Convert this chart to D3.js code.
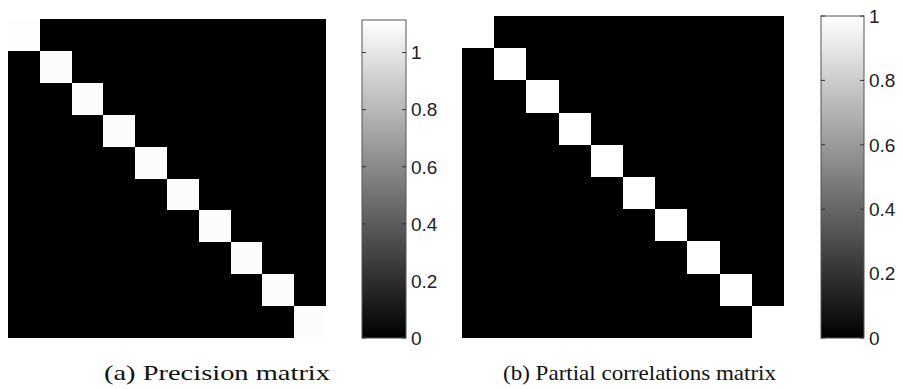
<!DOCTYPE html>
<html>
<head>
<meta charset="utf-8">
<script src="https://cdn.jsdelivr.net/npm/d3@7"></script>
<style>
  body { margin: 0; background: #fff; }
  .cb text { font-family: "Liberation Sans", Arial, sans-serif; font-size: 19px; fill: #222; }
  .caption { font-family: "Liberation Serif", "DejaVu Serif", serif; font-size: 22px; fill: #111; }
</style>
</head>
<body>
<svg id="chart" width="903" height="389"></svg>
<script>
// matrix size and values
var n = 10;
var precisionDiag = [1.11, 1.1, 1.1, 1.1, 1.1, 1.1, 1.1, 1.1, 1.1, 1.1];
var precisionOff = 0;
var partialDiag = [1, 1, 1, 1, 1, 1, 1, 1, 1, 1];
var partialOff = 0;
var precisionMax = 1.114;
var partialMax = 1;
var precisionTicks = [0, 0.2, 0.4, 0.6, 0.8, 1];
var partialTicks = [0, 0.2, 0.4, 0.6, 0.8, 1];
var captions = ["(a) Precision matrix", "(b) Partial correlations matrix"];

function buildMatrix(diag, off) {
    var cells = [];
    for (var i = 0; i < n; i++) {
        for (var j = 0; j < n; j++) {
            cells.push({row: i, col: j, value: i === j ? diag[i] : off});
        }
    }
    return cells;
}

var svg = d3.select("#chart");
var defs = svg.append("defs");

//画一个矩阵加色条
function drawPanel(opt) {
    var cells = buildMatrix(opt.diag, opt.off);
    var color = d3.scaleLinear()
        .domain([0, opt.max])
        .range(["#000000", "#ffffff"])
        .clamp(true);

    var xScale = d3.scaleBand()
        .domain(d3.range(n))
        .range([opt.x0, opt.x1]);
    var yScale = d3.scaleBand()
        .domain(d3.range(n))
        .range([opt.y0, opt.y1]);

    var g = svg.append("g");
    g.selectAll("rect")
        .data(cells)
        .enter().append("rect")
        .attr("x", function (d) { return Math.round(xScale(d.col)); })
        .attr("y", function (d) { return Math.round(yScale(d.row)); })
        .attr("width", function (d) { return Math.round(xScale(d.col) + xScale.bandwidth()) - Math.round(xScale(d.col)); })
        .attr("height", function (d) { return Math.round(yScale(d.row) + yScale.bandwidth()) - Math.round(yScale(d.row)); })
        .attr("fill", function (d) { return color(d.value); })
        .attr("shape-rendering", "crispEdges");

    // colorbar
    var gradId = "grad" + opt.id;
    var grad = defs.append("linearGradient")
        .attr("id", gradId)
        .attr("x1", 0).attr("y1", 1).attr("x2", 0).attr("y2", 0);
    d3.range(0, 1.0001, 0.1).forEach(function (t) {
        grad.append("stop")
            .attr("offset", t)
            .attr("stop-color", color(t * opt.max));
    });

    var cScale = d3.scaleLinear()
        .domain([0, opt.max])
        .range([opt.cby1, opt.cby0]);

    var cb = svg.append("g").attr("class", "cb");
    cb.append("rect")
        .attr("x", opt.cbx0)
        .attr("y", opt.cby0)
        .attr("width", opt.cbx1 - opt.cbx0)
        .attr("height", opt.cby1 - opt.cby0)
        .attr("fill", "url(#" + gradId + ")")
        .attr("stroke", "#555")
        .attr("stroke-width", 1);

    cb.selectAll("line.tl")
        .data(opt.ticks)
        .enter().append("line")
        .attr("x1", opt.cbx0).attr("x2", opt.cbx0 + 4)
        .attr("y1", function (d) { return cScale(d); })
        .attr("y2", function (d) { return cScale(d); })
        .attr("stroke", "#333");
    cb.selectAll("line.tr")
        .data(opt.ticks)
        .enter().append("line")
        .attr("x1", opt.cbx1 - 4).attr("x2", opt.cbx1)
        .attr("y1", function (d) { return cScale(d); })
        .attr("y2", function (d) { return cScale(d); })
        .attr("stroke", "#333");
    cb.selectAll("text")
        .data(opt.ticks)
        .enter().append("text")
        .attr("x", opt.cbx1 + 5)
        .attr("y", function (d) { return cScale(d); })
        .attr("dy", "0.36em")
        .text(function (d) { return d3.format("")(d); });

    svg.append("text")
        .attr("class", "caption")
        .attr("x", opt.capX)
        .attr("y", 380)
        .attr("textLength", opt.capW)
        .attr("lengthAdjust", "spacingAndGlyphs")
        .text(opt.caption);
}

drawPanel({
    id: "a", diag: precisionDiag, off: precisionOff, max: precisionMax,
    x0: 8, x1: 326, y0: 19, y1: 338,
    cbx0: 362, cbx1: 406, cby0: 20, cby1: 338,
    ticks: precisionTicks, caption: captions[0], capX: 104, capW: 226
});
drawPanel({
    id: "b", diag: partialDiag, off: partialOff, max: partialMax,
    x0: 462, x1: 784, y0: 16, y1: 338,
    cbx0: 821, cbx1: 864, cby0: 16, cby1: 338,
    ticks: partialTicks, caption: captions[1], capX: 503, capW: 273
});
</script>
</body>
</html>
